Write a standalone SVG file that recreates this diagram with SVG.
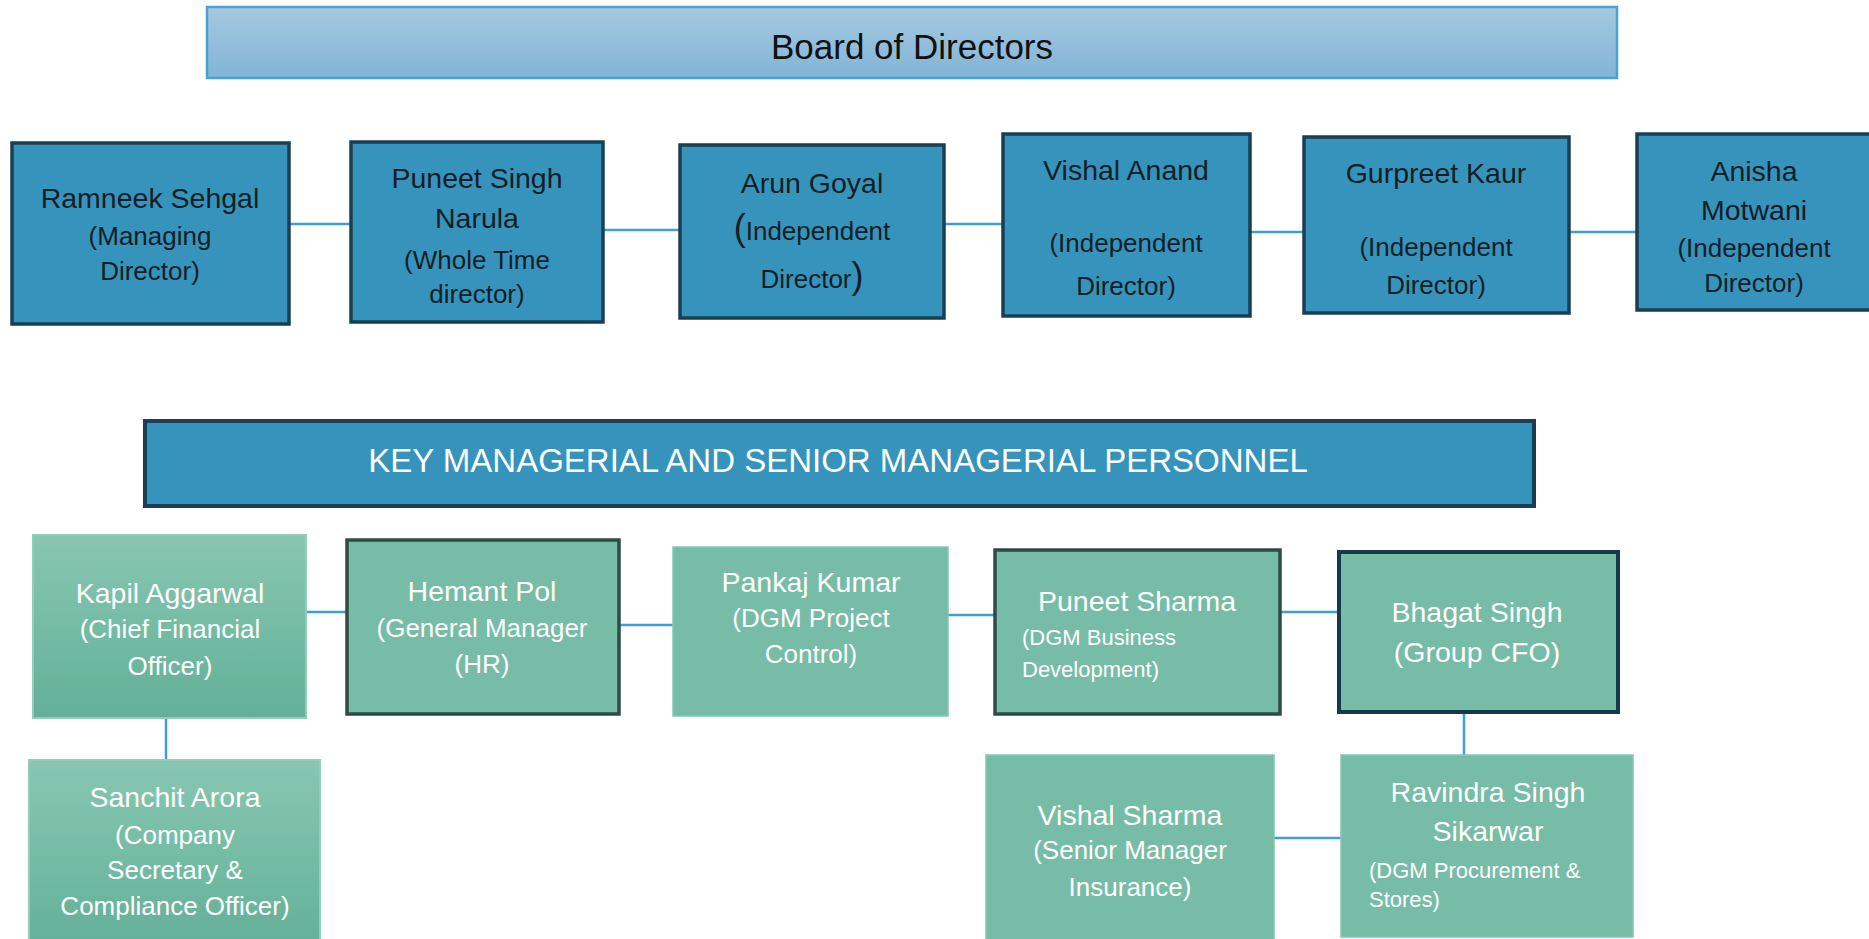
<svg xmlns="http://www.w3.org/2000/svg" width="1869" height="939" viewBox="0 0 1869 939">
<defs>
<linearGradient id="gBoard" x1="0" y1="0" x2="0" y2="1">
<stop offset="0" stop-color="#a6c9e0"/>
<stop offset="1" stop-color="#81b4d6"/>
</linearGradient>
<linearGradient id="gGreen" x1="0" y1="0" x2="0" y2="1">
<stop offset="0" stop-color="#88c6b2"/>
<stop offset="0.5" stop-color="#75bca5"/>
<stop offset="1" stop-color="#63af97"/>
</linearGradient>
<style>
text{font-family:"Liberation Sans",Arial,sans-serif;text-anchor:middle}
.dir{fill:#3693bb;stroke:#1a3f52;stroke-width:3.5}
.dt{fill:#141e26}
.nm{font-size:28.5px}
.rl{font-size:26px}
.mg{fill:#76bca6;stroke:#86c6b1;stroke-width:1.5}
.mgg{fill:url(#gGreen);stroke:#93cdb9;stroke-width:2}
.mgd{fill:#76bca6;stroke:#2f4b43;stroke-width:3.5}
.mgn{fill:#76bca6;stroke:#163a4c;stroke-width:4}
.wt{fill:#ffffff}
.sm{font-size:22px;text-anchor:start}
.con{stroke:#3f9fd0;stroke-width:2.5;fill:none}
</style>
</defs>

<g id="board">
<rect x="207" y="7" width="1410" height="71" fill="url(#gBoard)" stroke="#4aa3d0" stroke-width="2.5"/>
<text x="912" y="59" font-size="35" fill="#111111">Board of Directors</text>
</g>

<g id="connectors">
<line class="con" x1="290" y1="224" x2="351" y2="224"/>
<line class="con" x1="604" y1="230" x2="680" y2="230"/>
<line class="con" x1="945" y1="224" x2="1003" y2="224"/>
<line class="con" x1="1251" y1="232" x2="1304" y2="232"/>
<line class="con" x1="1570" y1="232" x2="1637" y2="232"/>
<line class="con" x1="307" y1="612" x2="347" y2="612"/>
<line class="con" x1="620" y1="625" x2="673" y2="625"/>
<line class="con" x1="948" y1="615" x2="995" y2="615"/>
<line class="con" x1="1281" y1="612" x2="1339" y2="612"/>
<line class="con" x1="166" y1="712" x2="166" y2="762"/>
<line class="con" x1="1464" y1="713" x2="1464" y2="760"/>
<line class="con" x1="1274" y1="838" x2="1341" y2="838"/>
</g>

<g id="ramneek">
<rect class="dir" x="12" y="143" width="277" height="181"/>
<text class="dt nm" x="150" y="208">Ramneek Sehgal</text>
<text class="dt rl" x="150" y="245">(Managing</text>
<text class="dt rl" x="150" y="280">Director)</text>
</g>

<g id="puneet-singh">
<rect class="dir" x="351" y="142" width="252" height="180"/>
<text class="dt nm" x="477" y="188">Puneet Singh</text>
<text class="dt nm" x="477" y="228">Narula</text>
<text class="dt rl" x="477" y="269">(Whole Time</text>
<text class="dt rl" x="477" y="303">director)</text>
</g>

<g id="arun">
<rect class="dir" x="680" y="145" width="264" height="173"/>
<text class="dt nm" x="812" y="193">Arun Goyal</text>
<text class="dt rl" x="812" y="240"><tspan font-size="36">(</tspan>Independent</text>
<text class="dt rl" x="812" y="288">Director<tspan font-size="36">)</tspan></text>
</g>

<g id="vishal-anand">
<rect class="dir" x="1003" y="134" width="247" height="182"/>
<text class="dt nm" x="1126" y="180">Vishal Anand</text>
<text class="dt rl" x="1126" y="252">(Independent</text>
<text class="dt rl" x="1126" y="295">Director)</text>
</g>

<g id="gurpreet">
<rect class="dir" x="1304" y="137" width="265" height="176"/>
<text class="dt nm" x="1436" y="183">Gurpreet Kaur</text>
<text class="dt rl" x="1436" y="256">(Independent</text>
<text class="dt rl" x="1436" y="294">Director)</text>
</g>

<g id="anisha">
<rect class="dir" x="1637" y="134" width="250" height="176"/>
<text class="dt nm" x="1754" y="181">Anisha</text>
<text class="dt nm" x="1754" y="220">Motwani</text>
<text class="dt rl" x="1754" y="257">(Independent</text>
<text class="dt rl" x="1754" y="292">Director)</text>
</g>

<g id="kmp">
<rect x="145" y="421" width="1389" height="85" fill="#3693bb" stroke="#1a3f52" stroke-width="4"/>
<text class="wt" x="838" y="472" font-size="33">KEY MANAGERIAL AND SENIOR MANAGERIAL PERSONNEL</text>
</g>

<g id="kapil">
<rect class="mgg" x="33" y="535" width="273" height="183"/>
<text class="wt nm" x="170" y="603">Kapil Aggarwal</text>
<text class="wt rl" x="170" y="638">(Chief Financial</text>
<text class="wt rl" x="170" y="675">Officer)</text>
</g>

<g id="sanchit">
<rect class="mgg" x="29" y="760" width="291" height="190"/>
<text class="wt nm" x="175" y="807">Sanchit Arora</text>
<text class="wt rl" x="175" y="844">(Company</text>
<text class="wt rl" x="175" y="879">Secretary &amp;</text>
<text class="wt rl" x="175" y="915">Compliance Officer)</text>
</g>

<g id="hemant">
<rect class="mgd" x="347" y="540" width="272" height="174"/>
<text class="wt nm" x="482" y="601">Hemant Pol</text>
<text class="wt rl" x="482" y="637">(General Manager</text>
<text class="wt rl" x="482" y="673">(HR)</text>
</g>

<g id="pankaj">
<rect class="mg" x="673" y="547" width="275" height="169"/>
<text class="wt nm" x="811" y="592">Pankaj Kumar</text>
<text class="wt rl" x="811" y="627">(DGM Project</text>
<text class="wt rl" x="811" y="663">Control)</text>
</g>

<g id="puneet-sharma">
<rect class="mgd" x="995" y="550" width="285" height="164"/>
<text class="wt nm" x="1137" y="611">Puneet Sharma</text>
<text class="wt sm" x="1022" y="645">(DGM Business</text>
<text class="wt sm" x="1022" y="677">Development)</text>
</g>

<g id="bhagat">
<rect class="mgn" x="1339" y="552" width="279" height="160"/>
<text class="wt nm" x="1477" y="622">Bhagat Singh</text>
<text class="wt nm" x="1477" y="662">(Group CFO)</text>
</g>

<g id="vishal-sharma">
<rect class="mg" x="986" y="755" width="288" height="195"/>
<text class="wt nm" x="1130" y="825">Vishal Sharma</text>
<text class="wt rl" x="1130" y="859">(Senior Manager</text>
<text class="wt rl" x="1130" y="896">Insurance)</text>
</g>

<g id="ravindra">
<rect class="mg" x="1341" y="755" width="292" height="182"/>
<text class="wt nm" x="1488" y="802">Ravindra Singh</text>
<text class="wt nm" x="1488" y="841">Sikarwar</text>
<text class="wt sm" x="1369" y="878">(DGM Procurement &amp;</text>
<text class="wt sm" x="1369" y="907">Stores)</text>
</g>
</svg>
